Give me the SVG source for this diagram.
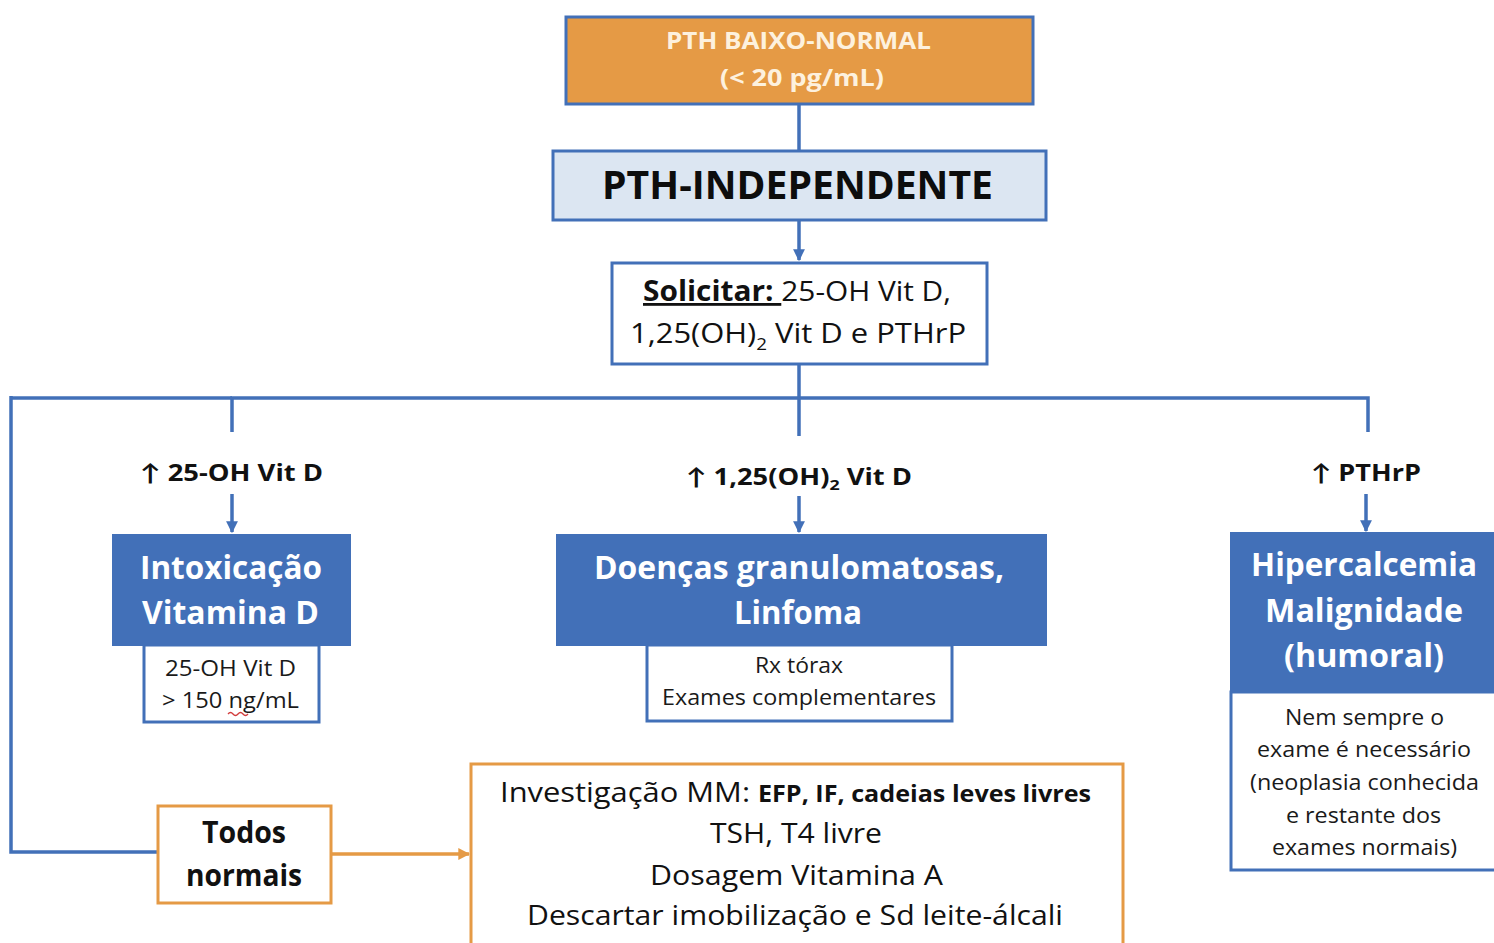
<svg xmlns="http://www.w3.org/2000/svg" width="1494" height="943" viewBox="0 0 1494 943">
  <style>
    text { font-family: "Open Sans", Lato, "DejaVu Sans", sans-serif; text-anchor: middle; }
    .wire { fill: none; stroke: #4270B8; stroke-width: 3.5; }
    .wire-o { fill: none; stroke: #E59A45; stroke-width: 3.5; }
    .blue-box { fill: #4270B8; stroke: #4270B8; stroke-width: 2; }
    .note-box { fill: #FFFFFF; stroke: #4270B8; stroke-width: 3; }
    .title-w { fill: #FFFFFF; font-weight: 700; font-size: 32px; }
    .note { fill: #1a1a1a; font-size: 21.5px; }
    .lbl { fill: #111; font-weight: 700; font-size: 23px; }
    .body { fill: #111; font-size: 28px; }
  </style>
  <defs>
    <marker id="ah" viewBox="0 0 10 10" refX="9" refY="5" markerWidth="3.4" markerHeight="3.4" orient="auto" markerUnits="strokeWidth">
      <path d="M0,0 L10,5 L0,10 z" fill="#4270B8"/>
    </marker>
    <marker id="ah-o" viewBox="0 0 10 10" refX="9" refY="5" markerWidth="3.4" markerHeight="3.4" orient="auto" markerUnits="strokeWidth">
      <path d="M0,0 L10,5 L0,10 z" fill="#E59A45"/>
    </marker>
  </defs>

  <rect width="1494" height="943" fill="#FFFFFF"/>

  <!-- connectors -->
  <g id="connectors">
    <path class="wire" d="M799,104 V150"/>
    <path class="wire" d="M799,220 V260" marker-end="url(#ah)"/>
    <path class="wire" d="M799,364 V436"/>
    <path class="wire" d="M232,432 V398 H1368 V432"/>
    <path class="wire" d="M11,398 H232"/>
    <path class="wire" d="M11,396 V852 H158"/>
    <path class="wire" d="M232,494 V532" marker-end="url(#ah)"/>
    <path class="wire" d="M799,496 V532" marker-end="url(#ah)"/>
    <path class="wire" d="M1366,494 V531" marker-end="url(#ah)"/>
    <path class="wire-o" d="M331,854 H469" marker-end="url(#ah-o)"/>
  </g>

  <!-- start: low/normal PTH -->
  <g id="pth-baixo">
    <rect x="566" y="17" width="467" height="87" fill="#E59A45" stroke="#4270B8" stroke-width="3"/>
    <text x="798.5" y="49" fill="#FDF1DE" font-weight="700" font-size="22.5" textLength="265" lengthAdjust="spacingAndGlyphs">PTH BAIXO-NORMAL</text>
    <text x="802" y="86" fill="#FDF1DE" font-weight="700" font-size="22.5" textLength="164" lengthAdjust="spacingAndGlyphs">(&lt; 20 pg/mL)</text>
  </g>

  <g id="pth-independente">
    <rect x="553" y="151" width="493" height="69" fill="#DCE6F2" stroke="#4270B8" stroke-width="3"/>
    <text x="797.5" y="199" fill="#0d0d0d" font-weight="700" font-size="39" textLength="391" lengthAdjust="spacingAndGlyphs">PTH-INDEPENDENTE</text>
  </g>

  <g id="solicitar">
    <rect x="612" y="263" width="375" height="101" fill="#FFFFFF" stroke="#4270B8" stroke-width="3"/>
    <text class="body" x="797" y="301" textLength="308" lengthAdjust="spacingAndGlyphs"><tspan font-weight="700" text-decoration="underline">Solicitar: </tspan>25-OH Vit D,</text>
    <text class="body" x="798" y="343" textLength="336" lengthAdjust="spacingAndGlyphs">1,25(OH)<tspan font-size="17" dy="7">2</tspan><tspan dy="-7"> Vit D e PTHrP</tspan></text>
  </g>

  <!-- branch labels -->
  <g id="lbl-25oh">
    <text class="lbl" x="231.5" y="481" textLength="183" lengthAdjust="spacingAndGlyphs">↑ 25-OH Vit D</text>
  </g>
  <g id="lbl-125oh">
    <text class="lbl" x="799" y="485" textLength="226" lengthAdjust="spacingAndGlyphs">↑ 1,25(OH)<tspan font-size="15" dy="5">2</tspan><tspan dy="-5"> Vit D</tspan></text>
  </g>
  <g id="lbl-pthrp">
    <text class="lbl" x="1366" y="481" textLength="110" lengthAdjust="spacingAndGlyphs">↑ PTHrP</text>
  </g>

  <!-- vitamin D intoxication -->
  <g id="intoxicacao">
    <rect class="blue-box" x="113" y="535" width="237" height="110"/>
    <text class="title-w" x="231" y="579" textLength="182" lengthAdjust="spacingAndGlyphs">Intoxicação</text>
    <text class="title-w" x="230.5" y="624" textLength="177" lengthAdjust="spacingAndGlyphs">Vitamina D</text>
    <rect class="note-box" x="144" y="645" width="175" height="77"/>
    <text class="note" x="230.5" y="676" textLength="131" lengthAdjust="spacingAndGlyphs">25-OH Vit D</text>
    <text class="note" x="230.5" y="708" textLength="137" lengthAdjust="spacingAndGlyphs">&gt; 150 ng/mL</text>
    <path d="M228,714 q2.5,-3 5,0 t5,0 t5,0 t5,0" fill="none" stroke="#D23B3B" stroke-width="1.3"/>
  </g>

  <!-- granulomatous disease / lymphoma -->
  <g id="granulomatosas">
    <rect class="blue-box" x="557" y="535" width="489" height="110"/>
    <text class="title-w" x="799" y="579" textLength="410" lengthAdjust="spacingAndGlyphs">Doenças granulomatosas,</text>
    <text class="title-w" x="798" y="624" textLength="128" lengthAdjust="spacingAndGlyphs">Linfoma</text>
    <rect class="note-box" x="647" y="645" width="305" height="76"/>
    <text class="note" x="799" y="673" textLength="88" lengthAdjust="spacingAndGlyphs">Rx tórax</text>
    <text class="note" x="799" y="705" textLength="274" lengthAdjust="spacingAndGlyphs">Exames complementares</text>
  </g>

  <!-- humoral hypercalcemia of malignancy -->
  <g id="hipercalcemia">
    <rect class="blue-box" x="1231" y="533" width="280" height="159"/>
    <text class="title-w" x="1364" y="576" textLength="226" lengthAdjust="spacingAndGlyphs">Hipercalcemia</text>
    <text class="title-w" x="1364" y="622" textLength="198" lengthAdjust="spacingAndGlyphs">Malignidade</text>
    <text class="title-w" x="1364" y="667" textLength="160" lengthAdjust="spacingAndGlyphs">(humoral)</text>
    <rect class="note-box" x="1231" y="692" width="280" height="178"/>
    <text class="note" x="1364.5" y="725" textLength="159" lengthAdjust="spacingAndGlyphs">Nem sempre o</text>
    <text class="note" x="1364" y="757" textLength="214" lengthAdjust="spacingAndGlyphs">exame é necessário</text>
    <text class="note" x="1364.5" y="790" textLength="229" lengthAdjust="spacingAndGlyphs">(neoplasia conhecida</text>
    <text class="note" x="1363.5" y="823" textLength="155" lengthAdjust="spacingAndGlyphs">e restante dos</text>
    <text class="note" x="1364.5" y="855" textLength="185" lengthAdjust="spacingAndGlyphs">exames normais)</text>
  </g>

  <!-- all normal -->
  <g id="todos-normais">
    <rect x="158" y="806" width="173" height="97" fill="#FFFFFF" stroke="#E59A45" stroke-width="3"/>
    <text x="244" y="843" fill="#111" font-weight="700" font-size="29.5" textLength="84" lengthAdjust="spacingAndGlyphs">Todos</text>
    <text x="244" y="886" fill="#111" font-weight="700" font-size="29.5" textLength="116" lengthAdjust="spacingAndGlyphs">normais</text>
  </g>

  <g id="investigacao">
    <rect x="471" y="764" width="652" height="190" fill="#FFFFFF" stroke="#E59A45" stroke-width="3"/>
    <text class="body" x="500" y="802" style="text-anchor:start" textLength="250" lengthAdjust="spacingAndGlyphs">Investigação MM:</text>
    <text x="758" y="802" style="text-anchor:start" fill="#111" font-weight="700" font-size="23" textLength="333" lengthAdjust="spacingAndGlyphs">EFP, IF, cadeias leves livres</text>
    <text class="body" x="796" y="843" textLength="172" lengthAdjust="spacingAndGlyphs">TSH, T4 livre</text>
    <text class="body" x="796.5" y="885" textLength="293" lengthAdjust="spacingAndGlyphs">Dosagem Vitamina A</text>
    <text class="body" x="795" y="925" textLength="536" lengthAdjust="spacingAndGlyphs">Descartar imobilização e Sd leite-álcali</text>
  </g>
</svg>
